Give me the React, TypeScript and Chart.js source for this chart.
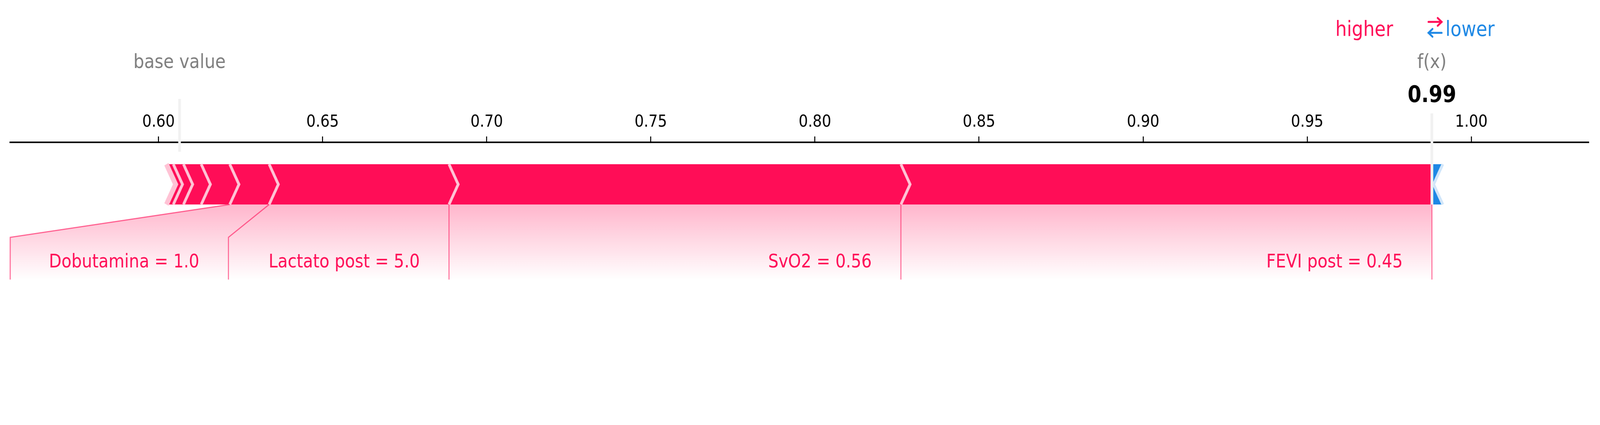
import React, { useEffect, useRef } from "react";
import { Chart, registerables } from "chart.js";
Chart.register(...registerables);

const W = 4710, H = 1087;
const axisMin = 0.5548, axisMax = 1.0358;
const tickStep = 0.05;
const baseValue = 0.6064;
const outValue = 0.988;
const outLabel = "0.99";
// boundaries of the red (positive) segments, left to right
const posBounds = [0.6024, 0.6045, 0.6076, 0.613, 0.6217, 0.6337, 0.6885, 0.8262, 0.988];
// boundaries of the blue (negative) segment
const negBounds = [0.988, 0.9909];
const featureNames = ["Dobutamina = 1.0", "Lactato post = 5.0", "SvO2 = 0.56", "FEVI post = 0.45"];
const featureSegIndex = [4, 5, 6, 7];
const labelLefts = [0.5548, 0.6213, 0.6885, 0.8262];

const RED = "#ff0d57", BLUE = "#1e88e5", GRAY = "#7f7f7f";
const FONT = "'DejaVu Sans', sans-serif";

export default function App() {
  const ref = useRef<HTMLCanvasElement>(null);
  useEffect(() => {
    document.body.style.margin = "0";
    document.body.style.overflow = "hidden";
    const cv = ref.current!;
    cv.style.width = window.innerWidth + "px";
    cv.style.height = window.innerHeight + "px";
    const plugin = {
      id: "force",
      afterDraw(chart: any) {
        const ctx = chart.ctx as CanvasRenderingContext2D;
        const xs = chart.scales.x;
        const px = (v: number) => xs.getPixelForValue(v);
        const top = 420, bot = 523, mid = (top + bot) / 2, hw = 27;
        const bendY = 607, endY = 715;
        ctx.save();
        featureNames.forEach((_, k) => {
          const i = featureSegIndex[k];
          const a = px(posBounds[i]), b = px(posBounds[i + 1]);
          const la = px(labelLefts[k]), lb = k + 1 < labelLefts.length ? px(labelLefts[k + 1]) : b;
          const g = ctx.createLinearGradient(0, bot, 0, endY);
          g.addColorStop(0, "rgba(255,13,87,0.3)");
          g.addColorStop(1, "rgba(255,13,87,0)");
          ctx.fillStyle = g;
          ctx.beginPath();
          ctx.moveTo(a, bot); ctx.lineTo(b, bot); ctx.lineTo(lb, bendY); ctx.lineTo(lb, endY);
          ctx.lineTo(la, endY); ctx.lineTo(la, bendY); ctx.closePath(); ctx.fill();
        });
        ctx.strokeStyle = "rgba(255,13,87,0.6)";
        ctx.lineWidth = 3;
        featureNames.forEach((_, k) => {
          const i = featureSegIndex[k];
          const a = px(posBounds[i]), la = px(labelLefts[k]);
          ctx.beginPath(); ctx.moveTo(a, bot); ctx.lineTo(la, bendY); ctx.lineTo(la, endY); ctx.stroke();
        });
        const fx = px(outValue);
        ctx.beginPath(); ctx.moveTo(fx, bot); ctx.lineTo(fx, endY); ctx.stroke();
        const s = px(posBounds[0]);
        ctx.fillStyle = RED;
        ctx.beginPath();
        ctx.moveTo(s, top); ctx.lineTo(fx, top); ctx.lineTo(fx, bot); ctx.lineTo(s, bot); ctx.lineTo(s + hw, mid);
        ctx.closePath(); ctx.fill();
        const be = px(negBounds[1]);
        ctx.fillStyle = BLUE;
        ctx.beginPath();
        ctx.moveTo(fx, top); ctx.lineTo(be, top); ctx.lineTo(be - hw, mid); ctx.lineTo(be, bot); ctx.lineTo(fx, bot);
        ctx.closePath(); ctx.fill();
        ctx.strokeStyle = "#ffc3d5";
        ctx.lineJoin = "miter";
        posBounds.slice(0, -1).forEach((v, i) => {
          const b = px(v);
          ctx.lineWidth = i === 0 ? 14 : 8;
          ctx.beginPath(); ctx.moveTo(b, top); ctx.lineTo(b + hw, mid); ctx.lineTo(b, bot); ctx.stroke();
        });
        ctx.strokeStyle = "#d1e6fa";
        ctx.lineWidth = 8;
        ctx.beginPath(); ctx.moveTo(be + 4, top); ctx.lineTo(be - hw + 4, mid); ctx.lineTo(be + 4, bot); ctx.stroke();
        ctx.strokeStyle = "#f1f1f1";
        ctx.lineWidth = 8;
        const bx = px(baseValue);
        ctx.beginPath(); ctx.moveTo(bx, 253); ctx.lineTo(bx, 388); ctx.stroke();
        ctx.beginPath(); ctx.moveTo(fx, 290); ctx.lineTo(fx, bot); ctx.stroke();
        ctx.textBaseline = "alphabetic";
        ctx.textAlign = "center";
        ctx.fillStyle = GRAY;
        ctx.font = `50px ${FONT}`;
        ctx.fillText("base value", bx, 174);
        ctx.fillText("f(x)", fx, 174);
        ctx.fillStyle = "#000";
        ctx.font = `bold 58px ${FONT}`;
        ctx.fillText(outLabel, fx, 261);
        ctx.font = `53px ${FONT}`;
        ctx.textAlign = "right";
        ctx.fillStyle = RED;
        ctx.fillText("higher", 4101, 92);
        ctx.textAlign = "left";
        ctx.fillStyle = BLUE;
        ctx.fillText("lower", 4255, 92);
        ctx.lineWidth = 5;
        ctx.lineCap = "round";
        ctx.strokeStyle = RED;
        ctx.beginPath(); ctx.moveTo(4205, 56); ctx.lineTo(4244, 56);
        ctx.moveTo(4232, 46); ctx.lineTo(4244, 56); ctx.lineTo(4232, 66); ctx.stroke();
        ctx.strokeStyle = BLUE;
        ctx.beginPath(); ctx.moveTo(4205, 84); ctx.lineTo(4244, 84);
        ctx.moveTo(4217, 74); ctx.lineTo(4205, 84); ctx.lineTo(4217, 94); ctx.stroke();
        ctx.font = `48px ${FONT}`;
        ctx.fillStyle = RED;
        ctx.textAlign = "right";
        featureNames.forEach((name, k) => {
          const i = featureSegIndex[k];
          const right = k + 1 < labelLefts.length ? px(labelLefts[k + 1]) : px(posBounds[i + 1]);
          ctx.fillText(name, right - 86, 684);
        });
        ctx.restore();
      },
    };
    const chart = new Chart(cv, {
      type: "scatter",
      data: { datasets: [{ data: [] }] },
      options: {
        animation: false,
        responsive: false,
        devicePixelRatio: 1,
        layout: { padding: { left: 30, right: 33, top: 0, bottom: 0 } },
        plugins: { legend: { display: false }, tooltip: { enabled: false } },
        scales: {
          x: {
            type: "linear",
            position: "top",
            min: axisMin,
            max: axisMax,
            grid: { drawOnChartArea: false, drawTicks: true, tickLength: 15, tickWidth: 3, tickColor: "#000" },
            border: { color: "#000", width: 4 },
            ticks: {
              stepSize: tickStep,
              color: "#000",
              padding: 10,
              maxRotation: 0,
              font: { size: 43, family: FONT },
              callback: (v: any) => Number(v).toFixed(2),
            },
            afterBuildTicks: (s: any) => {
              s.ticks = s.ticks.filter((t: any) => Math.abs(t.value / tickStep - Math.round(t.value / tickStep)) < 1e-6);
            },
            afterFit: (s: any) => { s.height = 364; },
          },
          y: { display: false, min: 0, max: 1 },
        },
      },
      plugins: [plugin],
    });
    return () => chart.destroy();
  }, []);
  return (
    <div style={{ background: "#fff" }}>
      <canvas ref={ref} width={W} height={H} style={{ display: "block" }} />
    </div>
  );
}
